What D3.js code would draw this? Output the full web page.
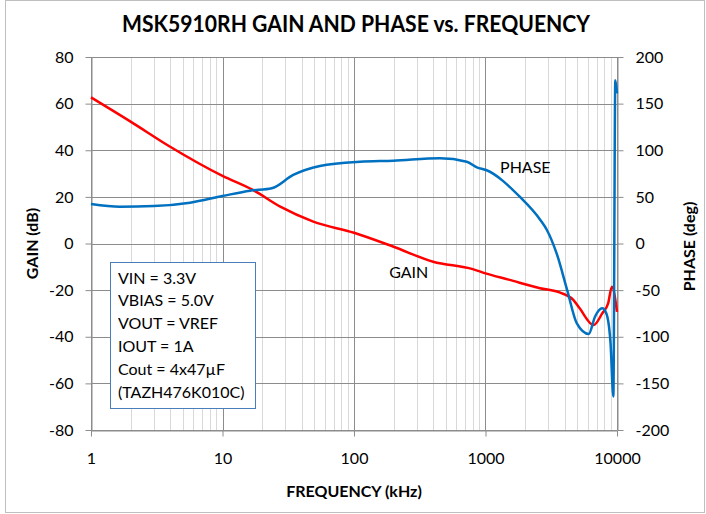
<!DOCTYPE html>
<html>
<head>
<meta charset="utf-8">
<script src="https://cdn.jsdelivr.net/npm/d3@7"></script>
<style>
  body { margin: 0; background: #fff; }
  text { font-family: Lato, "Open Sans", sans-serif; fill: #000; }
</style>
</head>
<body>
<div id="chart"></div>
<script>
// data (frequency in kHz)
var gainFreq  = [1, 2, 4, 10, 17, 27.5, 49, 100, 200, 400, 800, 1000, 1500, 2600, 3700, 4650, 5200, 6640, 7720, 8560, 9150, 10000];
var gainDb    = [62.7, 52.3, 41.5, 29, 23, 15.8, 9.4, 4.6, -1.4, -7.8, -11, -12.8, -15.5, -19.2, -21.1, -24.2, -27.8, -35, -30, -25.7, -18.5, -29.3];

var phaseFreq = [1, 1.66, 3, 5.66, 10, 16.2, 23.7, 34.5, 55, 111, 199, 450, 720, 860, 1010, 1820, 2620, 2930, 3500, 4180, 4950, 6100, 6800, 7720, 8300, 8930, 9380, 9710, 10000];
var phaseDeg  = [42.4, 39.5, 40.2, 43.8, 50.9, 56.6, 59.2, 73.5, 83.1, 87.7, 88.8, 91.4, 87.7, 81.7, 78.8, 50.2, 25, 14.5, -12, -50, -85.6, -97, -78.5, -69.5, -75, -107, -164, 175, 161];

var xTicks = [1, 10, 100, 1000, 10000];
var gainTicks = [-80, -60, -40, -20, 0, 20, 40, 60, 80];
var phaseTicks = [-200, -150, -100, -50, 0, 50, 100, 150, 200];

var noteLines = ["VIN = 3.3V", "VBIAS = 5.0V", "VOUT = VREF", "IOUT = 1A", "Cout = 4x47\u00b5F", "(TAZH476K010C)"];

(function() {
var width = 706, height = 514;
var mLeft = 91, mRight = 617, mTop = 57, mBottom = 430;

var svg = d3.select("#chart").append("svg")
  .attr("width", width)
  .attr("height", height);

// outer frame
svg.append("rect")
  .attr("x", 5.5).attr("y", 0.5)
  .attr("width", 699).attr("height", 512)
  .attr("fill", "#fff")
  .attr("stroke", "#bfbfbf");

var x = d3.scaleLog().domain([1, 10000]).range([mLeft, mRight]);
var yG = d3.scaleLinear().domain([-80, 80]).range([mBottom, mTop]);
var yP = d3.scaleLinear().domain([-200, 200]).range([mBottom, mTop]);

// minor vertical grid
var minor = [];
for (var d = 1; d < 10000; d *= 10) {
  for (var k = 2; k <= 9; k++) minor.push(d * k);
}
svg.append("g").selectAll("line").data(minor).enter().append("line")
  .attr("x1", function(v) { return Math.round(x(v)) + 0.5; })
  .attr("x2", function(v) { return Math.round(x(v)) + 0.5; })
  .attr("y1", mTop).attr("y2", mBottom)
  .attr("stroke", "#d9d9d9");

// major grid
svg.append("g").selectAll("line").data(gainTicks).enter().append("line")
  .attr("x1", mLeft).attr("x2", mRight)
  .attr("y1", function(v) { return Math.round(yG(v)) + 0.5; })
  .attr("y2", function(v) { return Math.round(yG(v)) + 0.5; })
  .attr("stroke", "#8c8c8c");
svg.append("g").selectAll("line").data(xTicks).enter().append("line")
  .attr("x1", function(v) { return Math.round(x(v)) + 0.5; })
  .attr("x2", function(v) { return Math.round(x(v)) + 0.5; })
  .attr("y1", mTop).attr("y2", mBottom)
  .attr("stroke", "#8c8c8c");

// axes (plain hyphen for negatives, like the original)
var fmt = function(v) { return String(v); };
var xAxis = d3.axisBottom(x).tickValues(xTicks).tickFormat(fmt).tickSizeInner(6).tickSizeOuter(0).tickPadding(16);
var gAxis = d3.axisLeft(yG).tickValues(gainTicks).tickFormat(fmt).tickSizeInner(6).tickSizeOuter(0).tickPadding(12);
var pAxis = d3.axisRight(yP).tickValues(phaseTicks).tickFormat(fmt).tickSizeInner(6).tickSizeOuter(0).tickPadding(12);

function styleAxis(g) {
  g.select(".domain").attr("stroke", "#8c8c8c");
  g.selectAll(".tick line").attr("stroke", "#8c8c8c");
  g.selectAll(".tick text").attr("font-size", "16px").attr("font-family", "Lato");
}
svg.append("g").attr("transform", "translate(0," + (mBottom + 0.5) + ")").call(xAxis).call(styleAxis);
svg.append("g").attr("transform", "translate(" + (mLeft + 0.5) + ",0)").call(gAxis).call(styleAxis);
svg.append("g").attr("transform", "translate(" + (mRight + 0.5) + ",0)").call(pAxis).call(styleAxis);

// curves
var gainLine = d3.line()
  .x(function(d, i) { return x(gainFreq[i]); })
  .y(function(d) { return yG(d); })
  .curve(d3.curveMonotoneX);
var phaseLine = d3.line()
  .x(function(d, i) { return x(phaseFreq[i]); })
  .y(function(d) { return yP(d); })
  .curve(d3.curveMonotoneX);

svg.append("path").datum(gainDb)
  .attr("d", gainLine)
  .attr("fill", "none")
  .attr("stroke", "#ff0000")
  .attr("stroke-width", 2.5);
svg.append("path").datum(phaseDeg)
  .attr("d", phaseLine)
  .attr("fill", "none")
  .attr("stroke", "#0070c0")
  .attr("stroke-width", 2.5);

// curve labels
svg.append("text").attr("x", x(1290)).attr("y", yG(30.3))
  .attr("font-size", "16px").text("PHASE");
svg.append("text").attr("x", x(185)).attr("y", yG(-14.8))
  .attr("font-size", "16px").text("GAIN");

// note box
var note = svg.append("g");
note.append("rect")
  .attr("x", 110.5).attr("y", 262.5)
  .attr("width", 145).attr("height", 146)
  .attr("fill", "#fff")
  .attr("stroke", "#4a7ebb");
note.selectAll("text").data(noteLines).enter().append("text")
  .attr("x", 118)
  .attr("y", function(d, i) { return 283.5 + i * 22.8; })
  .attr("font-size", "16px")
  .text(function(d) { return d; });

// titles
svg.append("text")
  .attr("x", 356).attr("y", 31.5)
  .attr("text-anchor", "middle")
  .attr("font-size", "22.5px").attr("font-weight", "bold")
  .attr("textLength", 468).attr("lengthAdjust", "spacingAndGlyphs")
  .text("MSK5910RH GAIN AND PHASE vs. FREQUENCY");
svg.append("text")
  .attr("x", 354).attr("y", 496.5)
  .attr("text-anchor", "middle")
  .attr("font-size", "16px").attr("font-weight", "bold")
  .text("FREQUENCY (kHz)");
svg.append("text")
  .attr("transform", "translate(38," + 243.5 + ") rotate(-90)")
  .attr("text-anchor", "middle")
  .attr("font-size", "16px").attr("font-weight", "bold")
  .text("GAIN (dB)");
svg.append("text")
  .attr("transform", "translate(695," + 246.5 + ") rotate(-90)")
  .attr("text-anchor", "middle")
  .attr("font-size", "16px").attr("font-weight", "bold")
  .text("PHASE (deg)");
})();
</script>
</body>
</html>
